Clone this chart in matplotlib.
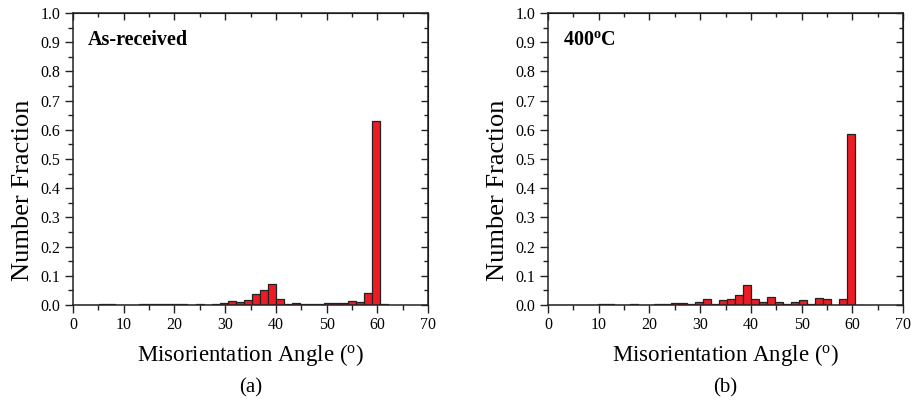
import numpy as np
import matplotlib
matplotlib.use('Agg')
import matplotlib.pyplot as plt
from matplotlib.ticker import MultipleLocator, FormatStrFormatter

plt.rcParams['font.family'] = ['Liberation Serif', 'DejaVu Serif']
plt.rcParams['mathtext.fontset'] = 'custom'
plt.rcParams['mathtext.rm'] = 'Liberation Serif'
plt.rcParams['mathtext.it'] = 'Liberation Serif:italic'
plt.rcParams['mathtext.bf'] = 'Liberation Serif:bold'

# histogram bins (degrees)
bin_start = 0.45
bin_width = 1.58
n_bins = 39

frac_received = [0, 0, 0, 0.002, 0.002, 0, 0, 0, 0.002, 0.002,
                 0.002, 0.002, 0.002, 0.002, 0, 0.002, 0, 0.003, 0.006, 0.014,
                 0.010, 0.016, 0.038, 0.050, 0.073, 0.020, 0.005, 0.007, 0.002, 0.002,
                 0.005, 0.008, 0.006, 0.008, 0.015, 0.011, 0.041, 0.630, 0.002]

frac_400 = [0, 0, 0, 0.001, 0.001, 0, 0.004, 0.002, 0, 0,
            0.003, 0.001, 0, 0.002, 0.002, 0.006, 0.008, 0.003, 0.011, 0.022,
            0.005, 0.016, 0.020, 0.033, 0.070, 0.020, 0.010, 0.026, 0.010, 0.004,
            0.010, 0.016, 0.005, 0.023, 0.021, 0, 0.020, 0.584, 0.001]

panel_titles = ['As-received', r'$\mathbf{400^{o}C}$']
panel_tags = ['(a)', '(b)']

edges = bin_start + bin_width * np.arange(n_bins)

fig = plt.figure(figsize=(9.14, 4.08), dpi=100)
ax_left = [0.0799, 0.5996]

for i, (vals, title, tag) in enumerate(zip([frac_received, frac_400], panel_titles, panel_tags)):
    ax = fig.add_axes([ax_left[i], 0.2525, 0.3884, 0.7157])
    ax.bar(edges, vals, width=bin_width, align='edge', color='#ed1c24',
           edgecolor='#222222', linewidth=0.9)
    ax.set_xlim(0, 70)
    ax.set_ylim(0, 1.0)
    ax.xaxis.set_major_locator(MultipleLocator(10))
    ax.xaxis.set_minor_locator(MultipleLocator(5))
    ax.yaxis.set_major_locator(MultipleLocator(0.1))
    ax.yaxis.set_minor_locator(MultipleLocator(0.05))
    ax.yaxis.set_major_formatter(FormatStrFormatter('%.1f'))
    ax.tick_params(which='both', direction='out', top=False, right=False,
                   labelsize=11.5, color='#222222', width=1.0)
    ax.tick_params(which='major', length=6, pad=3)
    ax.tick_params(which='minor', length=3.5)

    # mirrored inward ticks on top and right
    top = ax.secondary_xaxis('top')
    top.xaxis.set_major_locator(MultipleLocator(10))
    top.xaxis.set_minor_locator(MultipleLocator(5))
    right = ax.secondary_yaxis('right')
    right.yaxis.set_major_locator(MultipleLocator(0.1))
    right.yaxis.set_minor_locator(MultipleLocator(0.05))
    for sec in (top, right):
        sec.tick_params(which='both', direction='in', color='#222222', width=1.0,
                        labeltop=False, labelright=False)
        sec.tick_params(which='major', length=5)
        sec.tick_params(which='minor', length=3)

    for sp in ax.spines.values():
        sp.set_color('#222222')
        sp.set_linewidth(1.1)
    ax.set_xlabel(r'Misorientation Angle ($^{\rm o}$)', fontsize=16.5, labelpad=6)
    ax.set_ylabel('Number Fraction', fontsize=19)
    ax.yaxis.set_label_coords(-0.111, 0.394)
    ax.text(0.042, 0.89, title, transform=ax.transAxes, fontsize=14.5,
            fontweight='bold', ha='left', va='baseline')
    fig.text(ax_left[i] + 0.3884 / 2, 0.05, tag, fontsize=15, ha='center', va='center')

fig.savefig('out.png', dpi=100)
